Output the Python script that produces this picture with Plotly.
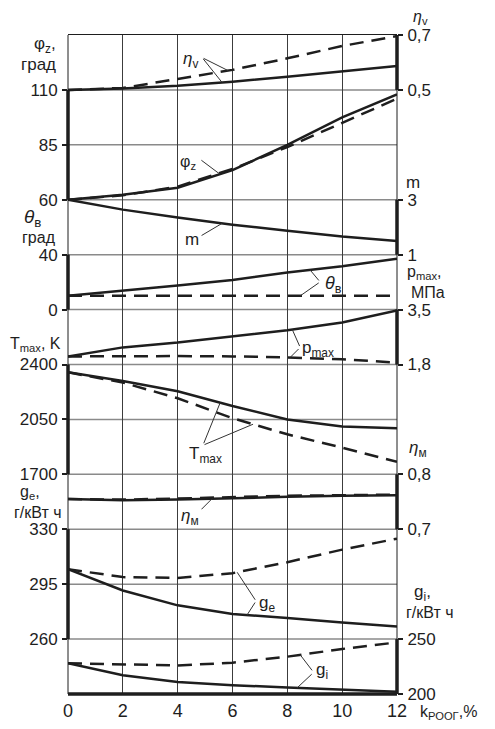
import numpy as np
import plotly.graph_objects as go

# k_ROOG, %
k = [0, 2, 4, 6, 8, 10, 12]

# solid / dashed pairs
eta_v_solid = [0.50, 0.505, 0.515, 0.530, 0.548, 0.567, 0.587]
eta_v_dash = [0.50, 0.507, 0.540, 0.573, 0.615, 0.660, 0.696]
phi_z_solid = [60, 62.3, 65.5, 73.5, 85, 97.5, 108]
phi_z_dash = [60, 62, 66, 74, 84, 95, 106]
m_solid = [3.0, 2.64, 2.35, 2.09, 1.87, 1.66, 1.50]
theta_solid = [10, 13.5, 17.5, 21.5, 27, 31.5, 37]
theta_dash = [10, 10, 10, 10, 10, 10, 10]
p_max_solid = [2.05, 2.33, 2.48, 2.67, 2.86, 3.10, 3.47]
p_max_dash = [2.05, 2.06, 2.06, 2.05, 2.02, 1.96, 1.86]
T_max_solid = [2350, 2295, 2230, 2135, 2050, 2005, 1993]
T_max_dash = [2350, 2285, 2185, 2058, 1955, 1870, 1780]
eta_m_solid = [0.755, 0.753, 0.754, 0.757, 0.759, 0.761, 0.762]
eta_m_dash = [0.755, 0.754, 0.756, 0.759, 0.761, 0.762, 0.763]
g_e_solid = [304.5, 291, 281.5, 276, 273.5, 270.5, 268]
g_e_dash = [304.5, 299.5, 299, 302, 309, 317, 324]
g_i_solid = [228, 217, 211, 208, 206, 204, 202]
g_i_dash = [228, 227, 226, 228.5, 234, 241, 247]

x_ticks = [0, 2, 4, 6, 8, 10, 12]

# each scale: side, tick values, tick text, (value, grid row) x2
N_ROWS = 12
scales = {
    "y2": ("right", [0.5, 0.7], ["0,5", "0,7"], (0.7, 12), (0.5, 11)),
    "y3": ("left", [60, 85, 110], ["60", "85", "110"], (110, 11), (60, 9)),
    "y4": ("right", [1, 3], ["1", "3"], (3, 9), (1, 8)),
    "y5": ("left", [0, 40], ["0", "40"], (40, 8), (0, 7)),
    "y6": ("right", [1.8, 3.5], ["1,8", "3,5"], (3.5, 7), (1.8, 6)),
    "y7": ("left", [1700, 2050, 2400], ["1700", "2050", "2400"], (2400, 6), (1700, 4)),
    "y8": ("right", [0.7, 0.8], ["0,7", "0,8"], (0.8, 4), (0.7, 3)),
    "y9": ("left", [260, 295, 330], ["260", "295", "330"], (330, 3), (260, 1)),
    "y10": ("right", [200, 250], ["200", "250"], (250, 1), (200, 0)),
}

FONT = "Arial, Liberation Sans, sans-serif"
INK = "#1e1e1e"
# the page body adds 8px around the figure
W, H = 479, 713
L, R, T, B = 60, 90, 27, 27
OFF = 8
X0, X1 = OFF + L, OFF + W - R      # plot area on screen
Y0, Y1 = OFF + T, OFF + H - B

fig = go.Figure()

# invisible trace so the row axis exists
fig.add_trace(go.Scatter(
    x=[x_ticks[0], x_ticks[-1]], y=[0, N_ROWS], mode="lines",
    line=dict(width=0), opacity=0, hoverinfo="skip", showlegend=False
))


def curve(xs, ys, axis, dashed=False):
    fig.add_trace(go.Scatter(
        x=xs, y=ys, yaxis=axis, mode="lines",
        line=dict(color=INK, width=2.5, dash="14px,8px" if dashed else "solid"),
        hoverinfo="skip", showlegend=False
    ))


curve(k, eta_v_solid, "y2")
curve(k, eta_v_dash, "y2", True)
curve(k, phi_z_solid, "y3")
curve(k, phi_z_dash, "y3", True)
curve(k, m_solid, "y4")
curve(k, theta_solid, "y5")
curve(k, theta_dash, "y5", True)
curve(k, p_max_solid, "y6")
curve(k, p_max_dash, "y6", True)
curve(k, T_max_solid, "y7")
curve(k, T_max_dash, "y7", True)
curve(k, eta_m_solid, "y8")
curve(k, eta_m_dash, "y8", True)
curve(k, g_e_solid, "y9")
curve(k, g_e_dash, "y9", True)
curve(k, g_i_solid, "y10")
curve(k, g_i_dash, "y10", True)

shapes = []
# horizontal grid, one line per row
for r in range(1, N_ROWS):
    shapes.append(dict(type="line", xref="paper", yref="y", x0=0, x1=1, y0=r, y1=r,
                       layer="below", line=dict(color="#8a8a8a", width=1.5)))
# thin frame sides
for side_x in (0, 1):
    shapes.append(dict(type="line", xref="paper", yref="paper", x0=side_x, x1=side_x,
                       y0=0, y1=1, line=dict(color=INK, width=1)))

layout_axes = {}
for name, (side, tv, tt, (va, ra), (vb, rb)) in scales.items():
    per_row = (va - vb) / (ra - rb)
    rng = [va - ra * per_row, va + (N_ROWS - ra) * per_row]
    key = "yaxis" + name[1:]
    layout_axes[key] = dict(
        overlaying="y", anchor="x", side=side, range=rng,
        tickvals=tv, ticktext=tt, showgrid=False, zeroline=False,
        showline=False, ticks="outside", ticklen=5, tickwidth=1.5,
        tickcolor=INK, ticklabelstandoff=1,
        tickfont=dict(family=FONT, size=17, color=INK)
    )
    # thick segment of the frame spanning the labelled range
    shapes.append(dict(
        type="line", xref="paper", yref=name,
        x0=0 if side == "left" else 1, x1=0 if side == "left" else 1,
        y0=min(tv), y1=max(tv), line=dict(color=INK, width=3.5)
    ))

# heavy base line
shapes.append(dict(type="line", xref="paper", yref="paper", x0=0, x1=1, y0=0, y1=0,
                   line=dict(color=INK, width=3.5)))


def px(xp):
    return (xp - X0) / (X1 - X0)


def py(yp):
    return (Y1 - yp) / (Y1 - Y0)


annotations = []


def text(s, xp, yp, size=17, xanchor="center"):
    annotations.append(dict(
        text=s, x=px(xp), y=py(yp), xref="paper", yref="paper",
        xanchor=xanchor, yanchor="middle", showarrow=False,
        font=dict(family=FONT, size=size, color=INK)
    ))


def leader(xs, ys, axis, kk, ax, ay):
    annotations.append(dict(
        text="", x=kk, y=float(np.interp(kk, xs, ys)), xref="x", yref=axis,
        ax=ax, ay=ay, showarrow=True, arrowhead=0, arrowwidth=1,
        arrowcolor="#333", standoff=0
    ))


# axis titles, left
text("φ<sub>z</sub>,", 58, 45, xanchor="right")
text("град", 58, 65, xanchor="right")
text("<i>θ</i><sub>в</sub>", 43, 218, size=19, xanchor="right")
text("град", 58, 237, size=16, xanchor="right")
text("T<sub>max</sub>, K", 63, 344, size=16, xanchor="right")
text("g<sub>e</sub>,", 42, 492, size=16, xanchor="right")
text("г/кВт ч", 64, 512, size=16, xanchor="right")
# axis titles, right
text("<i>η</i><sub>v</sub>", 411, 17, size=16, xanchor="left")
text("m", 404, 183, xanchor="left")
text("p<sub>max</sub>,", 405, 272, size=16, xanchor="left")
text("МПа", 409, 292, size=16, xanchor="left")
text("<i>η</i><sub>м</sub>", 407, 449, size=17, xanchor="left")
text("g<sub>i</sub>,", 412, 593, xanchor="left")
text("г/кВт ч", 404, 612, size=16, xanchor="left")
text("k<sub>РООГ</sub>,%", 418, 712, size=16, xanchor="left")

# curve labels and their leaders
text("<i>η</i><sub>v</sub>", 190, 60)
leader(k, eta_v_dash, "y2", 5.84, -26, -13)
leader(k, eta_v_solid, "y2", 5.62, -20, -25)

text("φ<sub>z</sub>", 188, 162, size=16)
leader(k, phi_z_solid, "y3", 5.54, -20, -15)

text("m", 192, 239)
leader(k, m_solid, "y4", 5.62, -22, 13)

text("<i>θ</i><sub>в</sub>", 323, 284, size=18, xanchor="left")
leader(k, theta_solid, "y5", 8.83, 10, 12)
leader(k, theta_dash, "y5", 8.47, 20, -14)

text("p<sub>max</sub>", 300, 349, xanchor="left")
leader(k, p_max_solid, "y6", 8.18, 8, 18)
leader(k, p_max_dash, "y6", 8.10, 10, -10)

text("T<sub>max</sub>", 205, 455)
leader(k, T_max_solid, "y7", 5.55, -17, 42)
leader(k, T_max_dash, "y7", 6.75, -50, 21)

text("<i>η</i><sub>м</sub>", 190, 517)
leader(k, eta_m_solid, "y8", 5.26, -12, 12)

text("g<sub>e</sub>", 257, 604, xanchor="left")
leader(k, g_e_dash, "y9", 6.17, 19, 29)
leader(k, g_e_solid, "y9", 6.53, 9, -14)

text("g<sub>i</sub>", 314, 671, xanchor="left")
leader(k, g_i_dash, "y10", 8.47, 13, 17)
leader(k, g_i_solid, "y10", 8.36, 16, -15)

fig.update_layout(
    template="none",
    width=W, height=H,
    margin=dict(l=L, r=R, t=T, b=B, autoexpand=False),
    paper_bgcolor="white", plot_bgcolor="rgba(0,0,0,0)",
    showlegend=False,
    xaxis=dict(
        range=[0, 12], tickvals=x_ticks, ticktext=[str(v) for v in x_ticks],
        showgrid=True, gridcolor="#3c3c3c", gridwidth=1, zeroline=False,
        showline=True, mirror=True, linecolor=INK, linewidth=1,
        ticks="", tickfont=dict(family=FONT, size=18, color=INK)
    ),
    yaxis=dict(
        range=[0, N_ROWS], showgrid=False, zeroline=False,
        showticklabels=False, ticks="", showline=False
    ),
    shapes=shapes,
    annotations=annotations,
    **layout_axes
)

fig.write_html("out.html")
